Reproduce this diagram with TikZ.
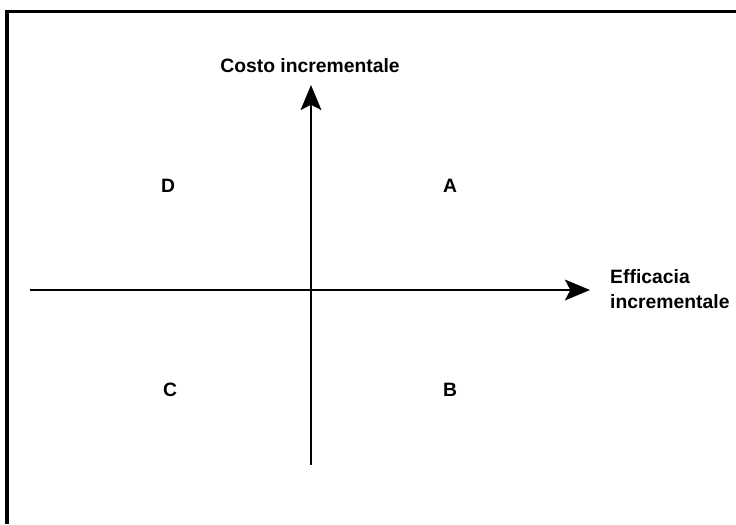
\documentclass[tikz,border=0pt]{standalone}
\usepackage{fontspec}
\setmainfont{Liberation Sans}
\usetikzlibrary{arrows.meta}
\begin{document}
\begin{tikzpicture}[x=0.03cm,y=-0.03cm,
  axis/.style={line width=1.9pt,-{Stealth[length=0.75cm,width=0.62cm,inset=0.16cm]}},
  lbl/.style={font=\fontsize{16.5}{22}\selectfont\bfseries,inner sep=0pt}]
\useasboundingbox (0,0) rectangle (736,524);
% frame (top and left edge only)
\coordinate (frametr) at (736,11.5);
\coordinate (frametl) at (7,11.5);
\coordinate (framebl) at (7,524);
\draw[line width=2.6pt] (frametr) -- (frametl) -- (framebl);
% axes
\coordinate (xstart) at (30,290);
\coordinate (xend) at (590,290);
\coordinate (ystart) at (311,465);
\coordinate (yend) at (311,85);
\draw[axis] (xstart) -- (xend);
\draw[axis] (ystart) -- (yend);
\node[lbl] (ylabel) at (310,66) {Costo incrementale};
\node[lbl,anchor=west,align=left] (xlabel) at (610,289) {Efficacia\\incrementale};
% quadrants
\node[lbl] (qa) at (450,186) {A};
\node[lbl] (qb) at (450,390) {B};
\node[lbl] (qc) at (170,390) {C};
\node[lbl] (qd) at (168,186) {D};
\end{tikzpicture}
\end{document}
